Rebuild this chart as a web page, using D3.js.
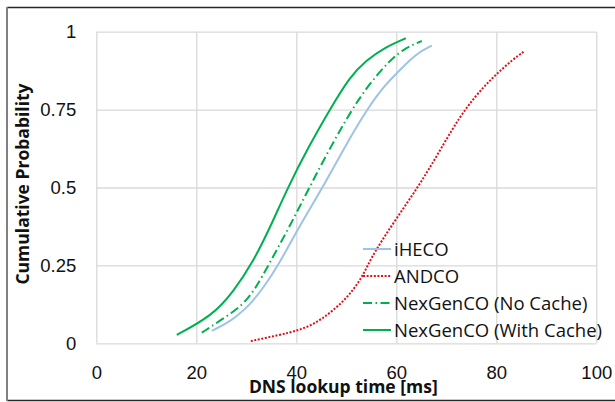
<!DOCTYPE html>
<html lang="en">
<head>
    <meta charset="UTF-8">
    <title>DNS lookup time CDF</title>
    <script src="https://d3js.org/d3.v7.min.js"></script>
    <style>
        body { margin: 0; background: #fff; }
        svg { display: block; font-family: "Open Sans", sans-serif; }
        .grid line { stroke: #d9d9d9; stroke-width: 1.3px; }
        .grid .domain { display: none; }
        .grid text { font-size: 18.5px; fill: #111; }
        .axis-title { font-size: 17.5px; font-weight: bold; fill: #111; }
        .legend text { font-size: 18.5px; fill: #111; }
    </style>
</head>
<body>
    <div id="chart"></div>

    <script>
        // x = DNS lookup time [ms], y = cumulative probability
        const seriesNames = ["iHECO", "ANDCO", "NexGenCO (No Cache)", "NexGenCO (With Cache)"];

        const ihecoX = [23.1, 26.1, 28.1, 30.7, 33.5, 36.4, 40.4, 45.3, 49.6, 54.1, 57.5, 60.7, 64.1, 67.1];
        const ihecoY = [0.04, 0.064, 0.087, 0.123, 0.18, 0.25, 0.37, 0.5, 0.628, 0.75, 0.825, 0.877, 0.931, 0.955];

        const andcoX = [30.9, 36.7, 40.1, 43.4, 46.7, 50.1, 52.7, 54.3, 55.9, 60.0, 64.4, 67.7, 71.1, 74.1, 77.4, 80.1, 83.4, 85.5];
        const andcoY = [0.007, 0.027, 0.04, 0.06, 0.096, 0.145, 0.2, 0.25, 0.3, 0.4, 0.503, 0.59, 0.685, 0.759, 0.822, 0.865, 0.912, 0.936];

        const noCacheX = [21.1, 24.7, 29.4, 32.0, 34.4, 38.5, 42.3, 46.7, 51.1, 54.5, 58.7, 62.0, 65.1];
        const noCacheY = [0.034, 0.072, 0.123, 0.18, 0.25, 0.37, 0.49, 0.626, 0.75, 0.83, 0.909, 0.95, 0.970];

        const cacheX = [16.1, 23.2, 27.4, 31.4, 35.0, 38.3, 42.5, 46.7, 50.7, 54.1, 57.4, 61.9];
        const cacheY = [0.027, 0.089, 0.165, 0.262, 0.38, 0.5, 0.632, 0.75, 0.856, 0.909, 0.947, 0.979];

        const xTicks = [0, 20, 40, 60, 80, 100];
        const yTicks = [0, 0.25, 0.5, 0.75, 1];
        const yTickLabels = ["0", "0.25", "0.5", "0.75", "1"];

        const W = 615, H = 402;
        const margin = { top: 31.7, right: 18.7, bottom: 58.7, left: 96.3 };
        const width = W - margin.left - margin.right;
        const height = H - margin.top - margin.bottom;

        const root = d3.select("#chart").append("svg")
            .attr("width", W)
            .attr("height", H);

        // outer chart frame
        root.append("line").attr("x1", 7).attr("x2", W).attr("y1", 7.5).attr("y2", 7.5)
            .style("stroke", "#262626").style("stroke-width", 1.3);
        root.append("line").attr("x1", 7).attr("x2", W).attr("y1", 400.5).attr("y2", 400.5)
            .style("stroke", "#262626").style("stroke-width", 1.3);
        root.append("line").attr("x1", 7).attr("x2", 7).attr("y1", 7).attr("y2", 401)
            .style("stroke", "#808080").style("stroke-width", 2);

        const svg = root.append("g")
            .attr("transform", `translate(${margin.left},${margin.top})`);

        const x = d3.scaleLinear().domain([0, 100]).range([0, width]);
        const y = d3.scaleLinear().domain([0, 1]).range([height, 0]);

        // gridlines + tick labels
        svg.append("g")
            .attr("class", "grid")
            .attr("transform", `translate(0,${height})`)
            .call(d3.axisBottom(x).tickValues(xTicks).tickSize(-height).tickPadding(23).tickFormat(d3.format("d")));

        svg.append("g")
            .attr("class", "grid")
            .call(d3.axisLeft(y).tickValues(yTicks).tickSize(-width).tickPadding(20)
                .tickFormat((d, i) => yTickLabels[i]));

        // axis titles
        svg.append("text")
            .attr("class", "axis-title")
            .attr("x", x(50) - 3)
            .attr("y", 392.7 - margin.top)
            .attr("text-anchor", "middle")
            .text("DNS lookup time [ms]");

        svg.append("text")
            .attr("class", "axis-title")
            .attr("transform", `translate(${29 - margin.left},${184 - margin.top}) rotate(-90)`)
            .attr("text-anchor", "middle")
            .text("Cumulative Probability");

        const series = [
            { name: seriesNames[0], xs: ihecoX, ys: ihecoY, color: "#9dc3e6", dash: null, w: 2 },
            { name: seriesNames[1], xs: andcoX, ys: andcoY, color: "#e0101a", dash: "2,1.6", w: 2 },
            { name: seriesNames[2], xs: noCacheX, ys: noCacheY, color: "#00b050", dash: "9,3.5,1.5,3.5", w: 2 },
            { name: seriesNames[3], xs: cacheX, ys: cacheY, color: "#00b050", dash: null, w: 2 }
        ];

        // basis curve smooths out the reading noise, like the smoothed lines of the original
        const line = d3.line()
            .x(d => x(d[0]))
            .y(d => y(d[1]))
            .curve(d3.curveBasis);

        series.forEach(function(s) {
            svg.append("path")
                .datum(s.xs.map((v, i) => [v, s.ys[i]]))
                .attr("d", line)
                .style("fill", "none")
                .style("stroke", s.color)
                .style("stroke-width", s.w)
                .style("stroke-dasharray", s.dash);
        });

        // legend
        const legend = root.append("g").attr("class", "legend");
        series.forEach(function(s, i) {
            const ly = 249 + i * 27;
            legend.append("line")
                .attr("x1", 363).attr("x2", 391)
                .attr("y1", ly).attr("y2", ly)
                .style("stroke", s.color)
                .style("stroke-width", s.w)
                .style("stroke-dasharray", s.dash);
            legend.append("text")
                .attr("x", 394)
                .attr("y", ly)
                .attr("dy", "0.36em")
                .text(s.name);
        });
    </script>
</body>
</html>
